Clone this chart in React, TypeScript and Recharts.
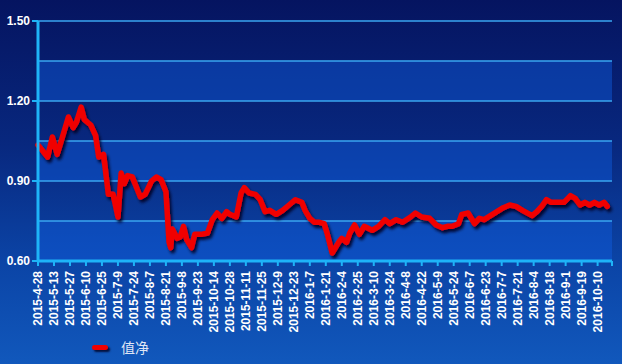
import React from 'react';
import { LineChart, Line, XAxis, YAxis, ReferenceLine, ReferenceArea, Legend } from 'recharts';

const dateLabels = [
  '2015-4-28', '2015-5-13', '2015-5-27', '2015-6-10', '2015-6-25', '2015-7-9', '2015-7-24', '2015-8-7',
  '2015-8-21', '2015-9-8', '2015-9-23', '2015-10-14', '2015-10-28', '2015-11-11', '2015-11-25', '2015-12-9',
  '2015-12-23', '2016-1-7', '2016-1-21', '2016-2-4', '2016-2-25', '2016-3-10', '2016-3-24', '2016-4-8',
  '2016-4-22', '2016-5-9', '2016-5-24', '2016-6-7', '2016-6-23', '2016-7-7', '2016-7-21', '2016-8-4',
  '2016-8-18', '2016-9-1', '2016-9-19', '2016-10-10',
];

const dayIndex = [
  0, 6, 9, 12, 14, 19, 22, 24, 27, 29, 33, 36, 38, 41, 43, 44, 47, 50, 52, 54, 56, 59, 61, 64, 67, 71, 74, 77,
  80, 82, 83, 84, 87, 89, 91, 93, 96, 98, 102, 106, 109, 112, 115, 118, 120, 124, 127, 129, 132, 136, 139, 142,
  145, 149, 153, 157, 161, 165, 167, 170, 173, 176, 179, 181, 184, 188, 190, 193, 195, 198, 201, 204, 209, 213,
  217, 220, 224, 228, 233, 236, 240, 245, 249, 253, 256, 259, 263, 265, 269, 273, 276, 279, 283, 287, 291, 295,
  299, 303, 309, 312, 315, 318, 321, 325, 329, 333, 336, 339, 342, 345, 348, 351, 354, 356,
];

const netValue = [
  1.035, 0.99, 1.065, 1.0, 1.04, 1.14, 1.1, 1.12, 1.177, 1.13, 1.11, 1.07, 0.99, 1.0, 0.9, 0.85, 0.85, 0.765,
  0.93, 0.89, 0.92, 0.915, 0.885, 0.84, 0.85, 0.9, 0.915, 0.905, 0.86, 0.67, 0.65, 0.72, 0.685, 0.69, 0.73, 0.68,
  0.65, 0.7, 0.7, 0.705, 0.755, 0.78, 0.76, 0.785, 0.775, 0.765, 0.855, 0.875, 0.855, 0.85, 0.83, 0.785, 0.79,
  0.775, 0.79, 0.81, 0.83, 0.82, 0.79, 0.76, 0.745, 0.745, 0.74, 0.7, 0.63, 0.67, 0.685, 0.67, 0.705, 0.735, 0.7,
  0.73, 0.715, 0.73, 0.755, 0.74, 0.755, 0.745, 0.765, 0.78, 0.765, 0.76, 0.735, 0.725, 0.73, 0.73, 0.74, 0.775,
  0.78, 0.74, 0.76, 0.755, 0.77, 0.785, 0.8, 0.81, 0.805, 0.79, 0.77, 0.785, 0.805, 0.83, 0.82, 0.82, 0.82, 0.845,
  0.835, 0.81, 0.82, 0.81, 0.82, 0.81, 0.82, 0.805,
];

const seriesName = '值净';
const yTickValues = [0.6, 0.9, 1.2, 1.5];
const gridValues = [0.75, 0.9, 1.05, 1.2, 1.35, 1.5];
const lightBands: [number, number][] = [[0.6, 0.75], [0.9, 1.05], [1.2, 1.35]];
const lastDay = 359;
const labelStep = 10;

const data = dayIndex.map((d, i) => ({ day: d, value: netValue[i] }));
const xTicks = [...dateLabels.map((_, i) => i * labelStep), lastDay];

const FONT = '"Liberation Sans", Arial, sans-serif';

const XTick = (props: any) => {
  const { x, y, payload } = props;
  const idx = payload.value / labelStep;
  const label = Number.isInteger(idx) ? dateLabels[idx] ?? '' : '';
  return (
    <text
      x={x}
      y={y}
      transform={`rotate(-90 ${x} ${y})`}
      textAnchor="end"
      dominantBaseline="central"
      fill="#ffffff"
      fontSize={12}
      fontWeight="bold"
      fontFamily={FONT}
    >
      {label}
    </text>
  );
};

const LegendContent = (props: any) => {
  const payload = props.payload || [];
  return (
    <div style={{ display: 'flex', alignItems: 'center' }}>
      {payload.map((p: any) => (
        <div key={p.value} style={{ display: 'flex', alignItems: 'center' }}>
          <span
            style={{
              display: 'inline-block',
              width: 16,
              height: 5,
              borderRadius: 3,
              background: p.color,
              boxShadow: '2px 2px 2px rgba(0,5,40,0.85)',
              marginRight: 13,
            }}
          />
          <span style={{ color: '#dfe6f5', fontSize: 14, fontFamily: '"Noto Sans CJK SC", sans-serif' }}>{p.value}</span>
        </div>
      ))}
    </div>
  );
};

export default function App() {
  return (
    <div
      style={{
        position: 'absolute',
        left: 0,
        top: 0,
        width: 622,
        height: 364,
        background: 'linear-gradient(to bottom, #051460 0%, #08287f 40%, #0b44a6 72%, #1158bc 100%)',
      }}
    >
      <LineChart width={622} height={364} data={data} margin={{ top: 21, right: 10, bottom: 23, left: 0 }}>
        <defs>
          <filter id="lineShadow" x="-5%" y="-10%" width="115%" height="130%">
            <feDropShadow dx="2" dy="3" stdDeviation="1.6" floodColor="#000420" floodOpacity="0.9" />
          </filter>
        </defs>
        {lightBands.map(([a, b]) => (
          <ReferenceArea key={a} y1={a} y2={b} fill="#0f5ee0" fillOpacity={0.45} stroke="none" ifOverflow="hidden" />
        ))}
        {gridValues.map((v) => (
          <ReferenceLine key={v} y={v} stroke="#3aa6f0" strokeWidth={1.5} />
        ))}
        <XAxis
          dataKey="day"
          type="number"
          domain={[0, lastDay]}
          ticks={xTicks}
          interval={0}
          height={80}
          tick={<XTick />}
          tickSize={5}
          tickMargin={5}
          axisLine={{ stroke: '#1eb4f8', strokeWidth: 3 }}
          tickLine={{ stroke: '#1eb4f8', strokeWidth: 2 }}
        />
        <YAxis
          type="number"
          domain={[0.6, 1.5]}
          ticks={yTickValues}
          interval={0}
          width={38}
          tickFormatter={(v: number) => v.toFixed(2)}
          tick={{ fill: '#ffffff', fontSize: 12, fontWeight: 'bold', fontFamily: FONT }}
          tickSize={6}
          tickMargin={2}
          axisLine={{ stroke: '#1eb4f8', strokeWidth: 3 }}
          tickLine={{ stroke: '#1eb4f8', strokeWidth: 2 }}
        />
        <Legend
          layout="horizontal"
          verticalAlign="middle"
          align="center"
          wrapperStyle={{ top: 337, left: 92, width: 'auto', height: 'auto' }}
          content={<LegendContent />}
        />
        <Line
          type="linear"
          dataKey="value"
          name={seriesName}
          stroke="#f00000"
          strokeWidth={5.5}
          strokeLinejoin="round"
          strokeLinecap="round"
          dot={false}
          filter="url(#lineShadow)"
          isAnimationActive={false}
        />
      </LineChart>
    </div>
  );
}
